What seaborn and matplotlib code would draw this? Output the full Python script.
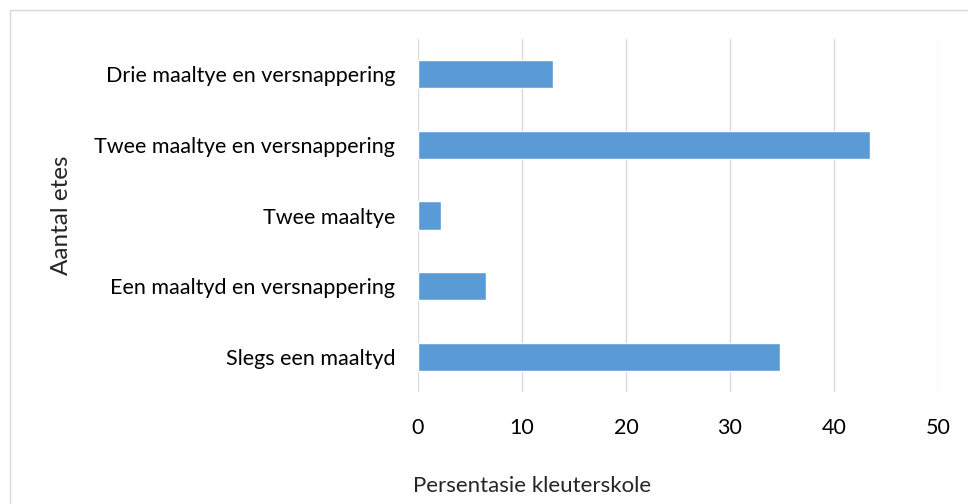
import matplotlib
matplotlib.use('Agg')
import matplotlib.pyplot as plt
from matplotlib.lines import Line2D
import seaborn as sns
import pandas as pd

# Data
categories = ['Drie maaltye en versnappering',
              'Twee maaltye en versnappering',
              'Twee maaltye',
              'Een maaltyd en versnappering',
              'Slegs een maaltyd']
percentages = [13.0, 43.5, 2.2, 6.5, 34.8]
x_ticks = [0, 10, 20, 30, 40, 50]

df = pd.DataFrame({'Kategorie': categories, 'Persentasie': percentages})

sns.set_style('white')
plt.rcParams['font.family'] = ['Lato', 'DejaVu Sans']

fig = plt.figure(figsize=(9.68, 5.04), dpi=100)
ax = fig.add_axes([418 / 968, 1 - 392 / 504, (938 - 418) / 968, (392 - 39) / 504])

# Horizontal bars
sns.barplot(data=df, y='Kategorie', x='Persentasie', orient='h',
            color='#5B9BD5', saturation=1, width=0.4, ax=ax, zorder=3)

ax.set_xlim(0, 50)
ax.set_xticks(x_ticks)
ax.set_xticklabels([str(t) for t in x_ticks])
ax.grid(axis='x', color='#d9d9d9', linewidth=1.0, zorder=0)
ax.set_axisbelow(True)
for side in ['top', 'right', 'bottom', 'left']:
    ax.spines[side].set_visible(False)
ax.tick_params(axis='both', length=0, labelsize=15.5, colors='#000000')
ax.tick_params(axis='x', pad=19)
ax.tick_params(axis='y', pad=16.5)
ax.set_xlabel('')
ax.set_ylabel('')

# Axis titles placed as in the reference
fig.text(413 / 968, 1 - 486 / 504, 'Persentasie kleuterskole',
         ha='left', va='center', fontsize=16)
fig.text(61 / 968, 1 - 215 / 504, 'Aantal etes', rotation=90,
         ha='center', va='center', fontsize=17.5)

# Chart frame (top and left visible)
fig.add_artist(Line2D([10 / 968, 1.0], [1 - 9.5 / 504, 1 - 9.5 / 504],
                      color='#d9d9d9', linewidth=1.0, transform=fig.transFigure))
fig.add_artist(Line2D([10 / 968, 10 / 968], [0.0, 1 - 9.5 / 504],
                      color='#d9d9d9', linewidth=1.0, transform=fig.transFigure))

plt.savefig('out.png', dpi=100)
plt.close(fig)
